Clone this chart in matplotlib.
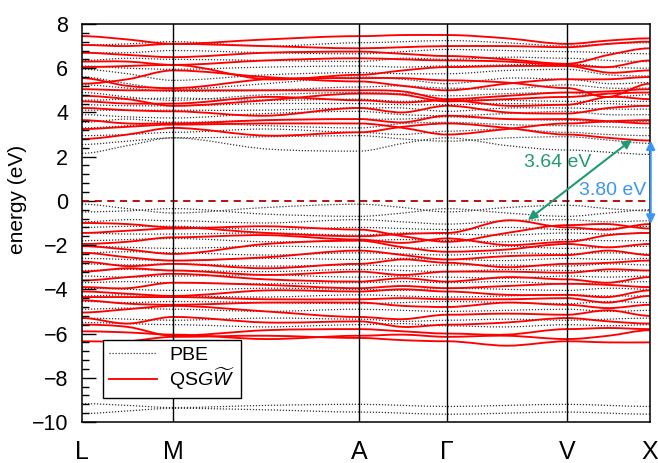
import numpy as np
import matplotlib
matplotlib.use("Agg")
import matplotlib.pyplot as plt
from matplotlib.path import Path
from matplotlib.patches import PathPatch
from matplotlib.lines import Line2D
from matplotlib.ticker import MultipleLocator

plt.rcParams['font.family'] = ['Liberation Sans', 'DejaVu Sans']
plt.rcParams['mathtext.fontset'] = 'custom'
plt.rcParams['mathtext.rm'] = 'Liberation Sans'
plt.rcParams['mathtext.it'] = 'Liberation Sans:italic'

# high-symmetry points along the path (k distance)
hs_labels = ['L', 'M', 'A', 'Γ', 'V', 'X']
hs_k = [0.0, 0.91, 2.77, 3.65, 4.85, 5.68]

# band energies (eV) at L, mid, M, mid, A, mid, Gamma, mid, V, mid, X
qsgw_cond = [
    [7.45, 7.30, 7.10, 7.30, 7.45, 7.50, 7.50, 7.35, 7.10, 7.25, 7.35],
    [7.05, 7.00, 7.10, 7.00, 6.90, 6.95, 7.00, 7.00, 6.95, 7.10, 7.20],
    [6.70, 6.60, 6.50, 6.70, 6.75, 6.65, 6.55, 6.40, 6.20, 6.60, 6.90],
    [6.30, 6.30, 6.15, 6.35, 6.45, 6.40, 6.35, 6.30, 6.15, 6.05, 6.35],
    [6.05, 6.10, 6.15, 5.50, 5.70, 5.90, 6.05, 6.10, 6.10, 5.80, 5.90],
    [5.30, 5.50, 5.90, 5.60, 5.40, 5.20, 5.00, 5.30, 5.50, 5.50, 5.60],
    [5.55, 5.20, 5.10, 5.50, 5.55, 5.55, 5.45, 5.35, 5.10, 4.70, 5.30],
    [5.05, 5.00, 5.00, 5.00, 5.00, 4.95, 4.60, 4.75, 4.90, 4.95, 5.05],
    [4.75, 4.60, 4.30, 4.55, 4.85, 4.80, 4.50, 4.60, 4.70, 4.85, 4.90],
    [4.50, 4.40, 4.40, 4.70, 4.55, 4.45, 4.55, 4.30, 4.35, 4.70, 4.60],
    [4.20, 4.10, 4.05, 3.85, 4.20, 4.00, 4.30, 4.00, 3.95, 4.20, 4.30],
    [3.65, 3.50, 3.50, 3.65, 3.70, 3.55, 3.85, 3.70, 3.70, 3.60, 3.50],
    [3.25, 3.35, 3.45, 3.50, 3.50, 3.30, 3.00, 3.25, 3.50, 3.60, 3.65],
    [2.80, 3.00, 3.30, 2.95, 3.10, 3.35, 3.50, 3.30, 3.00, 2.85, 2.73],
]
qsgw_val = [
    [-1.00, -1.05, -1.20, -1.45, -1.60, -1.50, -1.45, -0.88, -1.20, -1.30, -1.05],
    [-1.45, -1.35, -1.25, -1.15, -1.30, -1.60, -1.85, -1.45, -1.10, -1.05, -1.25],
    [-1.95, -1.85, -1.65, -1.55, -1.75, -1.90, -1.70, -2.00, -1.85, -1.55, -1.45],
    [-2.05, -2.20, -2.40, -1.95, -1.80, -2.10, -2.30, -2.20, -1.95, -2.10, -1.95],
    [-2.35, -2.55, -2.70, -2.55, -2.25, -2.45, -2.65, -2.50, -2.45, -2.25, -2.45],
    [-2.75, -2.95, -2.85, -3.05, -2.85, -2.65, -2.80, -3.00, -2.85, -2.80, -2.70],
    [-3.20, -3.05, -3.15, -3.35, -3.20, -3.35, -3.20, -3.20, -3.25, -3.10, -3.15],
    [-3.60, -3.45, -3.30, -3.55, -3.65, -3.50, -3.65, -3.45, -3.55, -3.70, -3.45],
    [-3.90, -3.95, -3.70, -3.80, -3.95, -3.85, -3.95, -3.85, -3.75, -3.80, -3.90],
    [-4.10, -4.20, -4.30, -4.05, -4.10, -4.00, -4.10, -4.25, -4.25, -4.35, -4.05],
    [-4.35, -4.35, -4.35, -4.45, -4.45, -4.40, -4.45, -4.45, -4.40, -4.60, -4.30],
    [-4.50, -4.65, -4.70, -4.60, -4.60, -4.75, -4.80, -4.60, -4.70, -4.85, -4.70],
    [-5.05, -4.90, -4.75, -5.00, -5.25, -5.35, -5.15, -5.10, -5.15, -4.95, -5.20],
    [-5.30, -5.55, -5.25, -5.50, -5.45, -5.70, -5.60, -5.50, -5.30, -5.45, -5.55],
    [-5.60, -5.70, -6.10, -5.85, -5.80, -5.90, -6.00, -6.05, -5.80, -5.75, -5.80],
    [-5.90, -5.95, -6.05, -6.25, -6.10, -6.05, -6.15, -6.10, -6.25, -6.10, -5.85],
    [-6.35, -6.35, -6.15, -6.10, -6.20, -6.30, -6.35, -6.55, -6.35, -6.40, -6.40],
]
pbe_cond = [
    [2.15, 2.50, 2.85, 2.35, 2.25, 2.60, 2.85, 2.50, 2.30, 2.20, 2.10],
    [2.55, 2.70, 2.85, 2.90, 2.95, 2.80, 2.70, 2.85, 2.90, 2.75, 2.60],
    [2.95, 3.00, 3.10, 3.25, 3.10, 3.00, 3.15, 3.25, 3.10, 3.00, 2.95],
    [3.30, 3.40, 3.55, 3.40, 3.30, 3.50, 3.55, 3.45, 3.40, 3.35, 3.30],
    [3.55, 3.70, 3.55, 3.65, 3.70, 3.70, 3.80, 3.70, 3.65, 3.55, 3.60],
    [3.90, 3.80, 3.75, 3.95, 4.05, 3.90, 3.85, 3.95, 4.05, 3.90, 3.90],
    [4.10, 4.10, 4.10, 4.10, 4.20, 4.20, 4.05, 4.20, 4.20, 4.15, 4.15],
    [4.35, 4.30, 4.30, 4.40, 4.40, 4.35, 4.35, 4.40, 4.35, 4.40, 4.30],
    [4.55, 4.60, 4.65, 4.55, 4.60, 4.50, 4.60, 4.55, 4.50, 4.50, 4.50],
    [4.90, 4.70, 4.55, 4.80, 4.90, 4.85, 4.75, 4.85, 4.90, 4.70, 4.80],
    [5.25, 5.10, 4.95, 5.00, 5.15, 5.20, 5.10, 5.05, 5.25, 5.10, 5.10],
    [5.60, 5.30, 5.05, 5.30, 5.60, 5.50, 5.30, 5.55, 5.50, 5.30, 5.35],
    [5.95, 5.75, 5.45, 5.70, 5.80, 5.75, 5.75, 5.90, 5.95, 5.70, 5.65],
    [6.10, 6.00, 5.95, 6.05, 6.10, 6.05, 6.10, 6.15, 6.20, 6.05, 6.00],
    [6.35, 6.45, 6.40, 6.35, 6.30, 6.45, 6.40, 6.50, 6.45, 6.35, 6.30],
    [6.70, 6.70, 6.80, 6.70, 6.65, 6.75, 6.85, 6.80, 6.75, 6.70, 6.65],
    [7.05, 7.10, 7.20, 7.00, 7.15, 7.20, 7.25, 7.15, 7.00, 7.10, 7.15],
]
pbe_val = [
    [-0.15, -0.35, -0.55, -0.30, -0.15, -0.30, -0.50, -0.30, -0.20, -0.35, -0.45],
    [-0.50, -0.45, -0.35, -0.60, -0.70, -0.55, -0.35, -0.55, -0.70, -0.55, -0.40],
    [-0.95, -0.85, -0.90, -1.00, -0.85, -0.95, -1.05, -0.90, -0.85, -0.95, -0.90],
    [-1.20, -1.15, -1.15, -1.30, -1.20, -1.25, -1.30, -1.20, -1.30, -1.25, -1.15],
    [-1.45, -1.50, -1.50, -1.45, -1.55, -1.45, -1.50, -1.55, -1.45, -1.50, -1.45],
    [-1.80, -1.75, -1.70, -1.85, -1.80, -1.75, -1.80, -1.85, -1.75, -1.80, -1.80],
    [-2.05, -2.10, -2.15, -2.05, -2.10, -2.15, -2.10, -2.05, -2.15, -2.10, -2.05],
    [-2.35, -2.30, -2.35, -2.45, -2.35, -2.40, -2.45, -2.35, -2.40, -2.35, -2.40],
    [-2.60, -2.65, -2.70, -2.60, -2.65, -2.60, -2.65, -2.70, -2.60, -2.65, -2.60],
    [-2.85, -2.90, -2.85, -2.95, -2.90, -2.95, -2.90, -2.90, -2.95, -2.85, -2.90],
    [-3.15, -3.10, -3.15, -3.20, -3.10, -3.15, -3.20, -3.10, -3.15, -3.20, -3.15],
    [-3.40, -3.45, -3.40, -3.35, -3.45, -3.40, -3.45, -3.50, -3.40, -3.45, -3.40],
    [-3.70, -3.65, -3.70, -3.75, -3.70, -3.65, -3.70, -3.65, -3.75, -3.70, -3.65],
    [-3.95, -4.00, -4.05, -3.95, -4.00, -4.05, -3.95, -4.00, -4.05, -3.95, -4.00],
    [-4.30, -4.25, -4.30, -4.35, -4.25, -4.30, -4.35, -4.30, -4.25, -4.30, -4.30],
    [-4.55, -4.60, -4.55, -4.60, -4.65, -4.60, -4.55, -4.60, -4.65, -4.55, -4.60],
    [-4.90, -4.85, -4.90, -5.00, -4.90, -4.95, -5.00, -4.95, -4.90, -5.00, -4.95],
    [-5.30, -5.35, -5.40, -5.30, -5.35, -5.45, -5.40, -5.35, -5.40, -5.35, -5.30],
    [-5.50, -5.55, -5.60, -5.70, -5.60, -5.55, -5.65, -5.70, -5.60, -5.65, -5.60],
    [-9.17, -9.25, -9.35, -9.25, -9.20, -9.25, -9.30, -9.25, -9.20, -9.25, -9.30],
    [-9.62, -9.50, -9.38, -9.45, -9.55, -9.60, -9.65, -9.60, -9.55, -9.60, -9.65],
]

gap_indirect = 3.64
gap_direct = 3.80

# k positions: high-symmetry points plus segment midpoints
kpts = []
for i in range(len(hs_k) - 1):
    kpts += [hs_k[i], 0.5 * (hs_k[i] + hs_k[i + 1])]
kpts.append(hs_k[-1])
kpts = np.array(kpts)


def band_path(k, e):
    # smooth cubic path through the listed energies, flat at high-symmetry points
    n = len(k)
    slope = np.zeros(n)
    for i in range(1, n - 1, 2):
        slope[i] = (e[i + 1] - e[i - 1]) / (k[i + 1] - k[i - 1])
    verts = [(k[0], e[0])]
    codes = [Path.MOVETO]
    for i in range(n - 1):
        h = k[i + 1] - k[i]
        verts += [(k[i] + h / 3, e[i] + slope[i] * h / 3),
                  (k[i + 1] - h / 3, e[i + 1] - slope[i + 1] * h / 3),
                  (k[i + 1], e[i + 1])]
        codes += [Path.CURVE4] * 3
    return Path(verts, codes)


fig = plt.figure(figsize=(6.58, 4.63), dpi=100)
ax = fig.add_axes([0.1246, 0.0886, 0.8632, 0.8596])

for band in pbe_cond + pbe_val:
    ax.add_patch(PathPatch(band_path(kpts, np.array(band)), fill=False,
                           edgecolor='0.2', lw=0.9, linestyle=(0, (1, 1.4))))
for band in qsgw_cond + qsgw_val:
    ax.add_patch(PathPatch(band_path(kpts, np.array(band)), fill=False,
                           edgecolor='#ff0000', lw=1.35))

ax.axhline(0, color='#b00000', lw=1.3, ls=(0, (4, 3)))
for k in hs_k[1:-1]:
    ax.axvline(k, color='black', lw=1.0)

# gap arrows
green = '#1f9a74'
blue = '#3a96f2'
ax.annotate('', xy=(5.50, 2.77), xytext=(4.46, -0.86),
            arrowprops=dict(arrowstyle='<|-|>', color=green, lw=1.5,
                            mutation_scale=13, shrinkA=0, shrinkB=0))
ax.text(4.76, 1.73, '%.2f eV' % gap_indirect, color=green, fontsize=14,
        ha='center', va='center')
ax.annotate('', xy=(5.687, 2.73), xytext=(5.687, -1.04),
            arrowprops=dict(arrowstyle='<|-|>', color=blue, lw=1.5,
                            mutation_scale=13, shrinkA=0, shrinkB=0),
            annotation_clip=False)
ax.text(5.31, 0.45, '%.2f eV' % gap_direct, color=blue, fontsize=14,
        ha='center', va='center')

ax.set_xlim(hs_k[0], hs_k[-1])
ax.set_ylim(-10, 8)
ax.set_xticks(hs_k)
ax.set_xticklabels(hs_labels, fontsize=18)
ax.tick_params(axis='x', length=0, pad=13)
ax.yaxis.set_major_locator(MultipleLocator(2))
ax.yaxis.set_minor_locator(MultipleLocator(0.4))
ax.tick_params(axis='y', which='major', direction='in', length=10, width=1,
               labelsize=15.5, pad=10)
ax.tick_params(axis='y', which='minor', direction='in', length=5, width=1)
ax.set_ylabel('energy (eV)', fontsize=15)
ax.yaxis.set_label_coords(-0.097, 0.559)
for sp in ax.spines.values():
    sp.set_linewidth(1.1)

handles = [Line2D([], [], color='0.2', lw=0.9, ls=(0, (1, 1.4))),
           Line2D([], [], color='#ff0000', lw=1.35)]
leg = ax.legend(handles, ['PBE', r'QS$G\widetilde{W}$'], loc='lower left',
                bbox_to_anchor=(0.037, 0.06), fontsize=14, fancybox=False,
                framealpha=1, edgecolor='black', handlelength=2.5,
                labelspacing=0.1, borderpad=0.3, handletextpad=0.6,
                borderaxespad=0)
leg.get_frame().set_linewidth(1.0)

fig.savefig('out.png', dpi=100)
